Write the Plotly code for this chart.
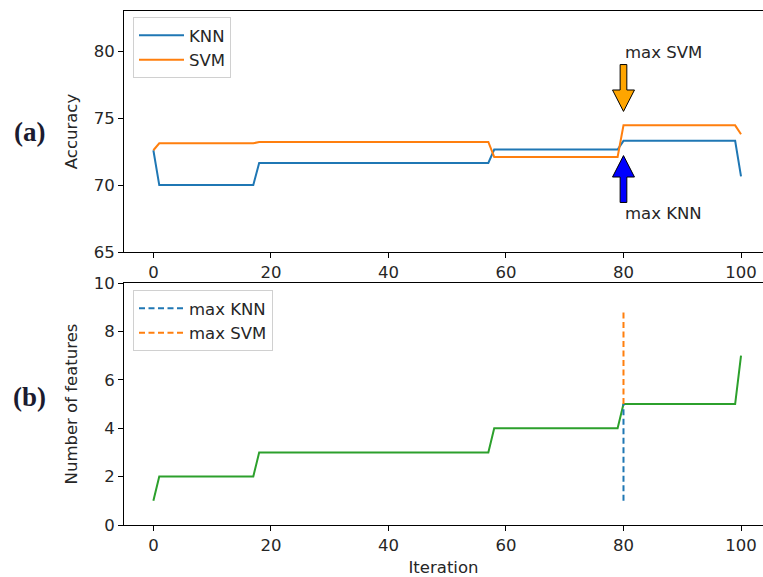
import plotly.graph_objects as go

# ---- data ----
iterations = [0, 1, 17, 18, 57, 58, 79, 80, 99, 100]
knn_acc = [72.6, 70.0, 70.0, 71.65, 71.65, 72.65, 72.65, 73.3, 73.3, 70.65]
svm_acc = [72.6, 73.12, 73.12, 73.22, 73.22, 72.1, 72.1, 74.46, 74.46, 73.8]
n_features = [1, 2, 2, 3, 3, 4, 4, 5, 5, 7]

max_knn_iter = 80
max_svm_iter = 80
max_knn_line = [1, 5]
max_svm_line = [5, 8.85]

svm_arrow = dict(tail=79.0, tip=75.5, text_y=79.9)
knn_arrow = dict(tail=68.7, tip=72.2, text_y=67.9)

x_ticks = [0, 20, 40, 60, 80, 100]
acc_ticks = [65, 70, 75, 80]
feat_ticks = [0, 2, 4, 6, 8, 10]

C_BLUE, C_ORANGE, C_GREEN = "#1f77b4", "#ff7f0e", "#2ca02c"
FONT = "DejaVu Sans"
FS = 16.5
TXT = "#262626"
DASH = "6px,3.5px"

fig = go.Figure()
fig.add_trace(go.Scatter(x=iterations, y=knn_acc, mode="lines", name="KNN",
                         line=dict(color=C_BLUE, width=2), xaxis="x", yaxis="y", legend="legend"))
fig.add_trace(go.Scatter(x=iterations, y=svm_acc, mode="lines", name="SVM",
                         line=dict(color=C_ORANGE, width=2), xaxis="x", yaxis="y", legend="legend"))
fig.add_trace(go.Scatter(x=iterations, y=n_features, mode="lines", showlegend=False,
                         line=dict(color=C_GREEN, width=2), xaxis="x2", yaxis="y2"))
fig.add_trace(go.Scatter(x=[max_knn_iter, max_knn_iter], y=max_knn_line, mode="lines", name="max KNN",
                         line=dict(color=C_BLUE, width=2, dash=DASH), xaxis="x2", yaxis="y2", legend="legend2"))
fig.add_trace(go.Scatter(x=[max_svm_iter, max_svm_iter], y=max_svm_line, mode="lines", name="max SVM",
                         line=dict(color=C_ORANGE, width=2, dash=DASH), xaxis="x2", yaxis="y2", legend="legend2"))


def arrow_path(x, tail, tip, sw=0.57, hw=1.87, hl=1.6):
    d = 1 if tip > tail else -1
    base = tip - d * hl
    pts = [(x - sw, tail), (x + sw, tail), (x + sw, base), (x + hw, base),
           (x, tip), (x - hw, base), (x - sw, base)]
    return "M " + " L ".join(f"{px},{py}" for px, py in pts) + " Z"


shapes = [
    dict(type="path", xref="x", yref="y", path=arrow_path(max_svm_iter, svm_arrow["tail"], svm_arrow["tip"]),
         fillcolor="#ffa500", line=dict(color="black", width=1)),
    dict(type="path", xref="x", yref="y", path=arrow_path(max_knn_iter, knn_arrow["tail"], knn_arrow["tip"]),
         fillcolor="#0000ff", line=dict(color="black", width=1)),
]

annotations = [
    dict(x=max_svm_iter, y=svm_arrow["text_y"], xref="x", yref="y", text="max SVM", showarrow=False,
         xanchor="left", yanchor="middle", font=dict(family=FONT, size=FS, color=TXT)),
    dict(x=max_knn_iter, y=knn_arrow["text_y"], xref="x", yref="y", text="max KNN", showarrow=False,
         xanchor="left", yanchor="middle", font=dict(family=FONT, size=FS, color=TXT)),
    dict(x=30, y=132, xref="paper", yref="paper", text="<b>(a)</b>", showarrow=False,
         xanchor="center", yanchor="middle",
         font=dict(family="Liberation Serif", size=27, color="#1b1b30")),
    dict(x=30, y=397, xref="paper", yref="paper", text="<b>(b)</b>", showarrow=False,
         xanchor="center", yanchor="middle",
         font=dict(family="Liberation Serif", size=27, color="#1b1b30")),
]

W, H = 763, 577
ML, MR, MT, MB = 124, 0, 11, 52
pw, ph = W - ML - MR, H - MT - MB
for a in annotations[2:]:
    a["x"] = (a["x"] - ML) / pw
    a["y"] = (H - MB - a["y"]) / ph

axis_common = dict(showline=True, linecolor="black", linewidth=1, ticks="outside", ticklen=5,
                   tickcolor="black", showgrid=False, zeroline=False,
                   tickfont=dict(family=FONT, size=FS, color=TXT))

legend_common = dict(xanchor="left", yanchor="top", bgcolor="white", bordercolor="#d0d0d0", borderwidth=1,
                     font=dict(family=FONT, size=FS, color=TXT), tracegroupgap=0, itemwidth=45)

fig.update_layout(
    width=W, height=H, margin=dict(l=ML, r=MR, t=MT, b=MB),
    plot_bgcolor="white", paper_bgcolor="white",
    xaxis=dict(**axis_common, domain=[0, 1], range=[-5, 103.74], tickvals=x_ticks, anchor="y", mirror=True),
    yaxis=dict(**axis_common, domain=[(525 - 252) / ph, 1], range=[65, 83], tickvals=acc_ticks, anchor="x",
               title=dict(text="Accuracy", font=dict(family=FONT, size=FS, color=TXT), standoff=11)),
    xaxis2=dict(**axis_common, domain=[0, 1], range=[-5, 103.74], tickvals=x_ticks, anchor="y2", mirror=True,
                title=dict(text="Iteration", font=dict(family=FONT, size=FS, color=TXT), standoff=8)),
    yaxis2=dict(**axis_common, domain=[0, (525 - 283) / ph], range=[0, 10], tickvals=feat_ticks, anchor="x2",
                title=dict(text="Number of features", font=dict(family=FONT, size=FS, color=TXT), standoff=11)),
    legend=dict(x=(133 - ML) / pw, y=(525 - 17) / ph, **legend_common),
    legend2=dict(x=(133 - ML) / pw, y=(525 - 290) / ph, **legend_common),
    shapes=shapes, annotations=annotations, showlegend=True,
)

fig.write_html("out.html", config={"displayModeBar": False},
               post_script="document.body.style.margin='0';")
